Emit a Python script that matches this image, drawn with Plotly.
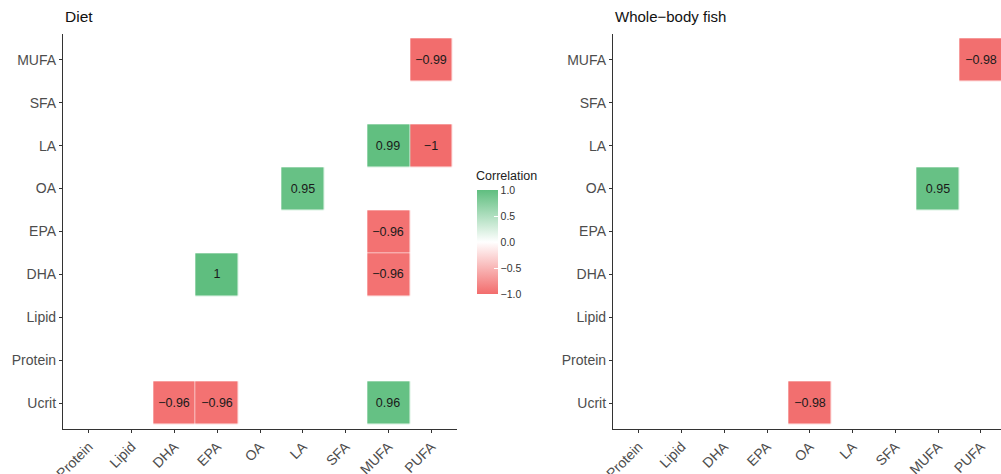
import plotly.graph_objects as go

# variable order (x left->right, y bottom->top)
x_labels = ['Protein', 'Lipid', 'DHA', 'EPA', 'OA', 'LA', 'SFA', 'MUFA', 'PUFA']
y_labels = ['Ucrit', 'Protein', 'Lipid', 'DHA', 'EPA', 'OA', 'LA', 'SFA', 'MUFA']

# significant correlations only (row, column, r)
diet_rows = ['MUFA', 'LA', 'LA', 'OA', 'EPA', 'DHA', 'DHA', 'Ucrit', 'Ucrit', 'Ucrit']
diet_cols = ['PUFA', 'MUFA', 'PUFA', 'LA', 'MUFA', 'EPA', 'MUFA', 'DHA', 'EPA', 'MUFA']
diet_vals = [-0.99, 0.99, -1, 0.95, -0.96, 1, -0.96, -0.96, -0.96, 0.96]

fish_rows = ['MUFA', 'OA', 'Ucrit']
fish_cols = ['PUFA', 'MUFA', 'OA']
fish_vals = [-0.98, 0.95, -0.98]

W, H = 1001, 474
colors = [[0, '#F26C6C'], [0.5, '#FFFFFF'], [1, '#5FBE7F']]
FONT = 'Liberation Sans, Arial'


def fmt(v):
    s = f'{v:g}'
    return s.replace('-', '\u2212')


def grid(rows, cols, vals):
    z = [[None] * len(x_labels) for _ in y_labels]
    t = [[''] * len(x_labels) for _ in y_labels]
    for r, c, v in zip(rows, cols, vals):
        i, j = y_labels.index(r), x_labels.index(c)
        z[i][j] = v
        t[i][j] = fmt(v)
    return z, t


fig = go.Figure()
for k, (rows, cols, vals) in enumerate([(diet_rows, diet_cols, diet_vals),
                                          (fish_rows, fish_cols, fish_vals)]):
    z, t = grid(rows, cols, vals)
    fig.add_trace(go.Heatmap(
        x=list(range(len(x_labels))), y=list(range(len(y_labels))), z=z,
        text=t, texttemplate='%{text}',
        textfont=dict(size=12.5, color='#1a1a1a', family=FONT),
        colorscale=colors, zmin=-1, zmax=1, xgap=0.6, ygap=0.6,
        xaxis='x' if k == 0 else 'x2', yaxis='y' if k == 0 else 'y2',
        showscale=(k == 0), hoverongaps=False,
        colorbar=dict(
            x=477 / W, xanchor='left', y=(H - 242) / H, yanchor='middle',
            len=104, lenmode='pixels', thickness=21, outlinewidth=0,
            tickvals=[-1, -0.5, 0, 0.5, 1],
            ticktext=['\u22121.0', '\u22120.5', '0.0', '0.5', '1.0'],
            ticks='inside', ticklen=4, tickcolor='white',
            tickfont=dict(size=10.5, color='#333', family=FONT),
            xpad=0, ypad=0,
        ),
    ))

ydom = [(H - 429) / H, (H - 34) / H]
axfont = dict(size=14, color='#4D4D4D', family=FONT)
common_x = dict(tickvals=list(range(len(x_labels))), ticktext=x_labels, tickangle=-45,
                showline=True, linecolor='#333', linewidth=1.2, ticks='outside',
                ticklen=3, tickcolor='#333', showgrid=False, zeroline=False,
                tickfont=axfont, fixedrange=True, automargin=False)
common_y = dict(tickvals=list(range(len(y_labels))), ticktext=y_labels,
                showline=True, linecolor='#333', linewidth=1.2, ticks='outside',
                ticklen=3, tickcolor='#333', showgrid=False, zeroline=False,
                tickfont=axfont, range=[-0.6, 8.6], domain=ydom, fixedrange=True,
                automargin=False)


def label(text, x, y, size, color='#111'):
    return dict(text=text, x=x / W, y=(H - y) / H, xref='paper', yref='paper',
                xanchor='left', yanchor='middle', showarrow=False,
                font=dict(size=size, color=color, family=FONT))


fig.update_layout(
    width=W, height=H, margin=dict(l=0, r=0, t=0, b=0, autoexpand=False),
    plot_bgcolor='white', paper_bgcolor='white',
    xaxis=dict(common_x, domain=[63 / W, 457 / W], range=[-0.6, 8.6], anchor='y'),
    yaxis=dict(common_y, anchor='x'),
    xaxis2=dict(common_x, domain=[613 / W, 1.0], range=[-0.6, 8.47], anchor='y2'),
    yaxis2=dict(common_y, anchor='x2'),
    annotations=[
        label('Diet', 63, 16, 15.5),
        label('Whole\u2212body fish', 613, 16, 15),
        label('Correlation', 474, 176, 12.5, '#222'),
    ],
)

# drop the browser's default body margin so the figure sits at the page corner
fig.write_html('out.html', config={'displayModeBar': False},
               post_script="document.body.style.margin='0';")
